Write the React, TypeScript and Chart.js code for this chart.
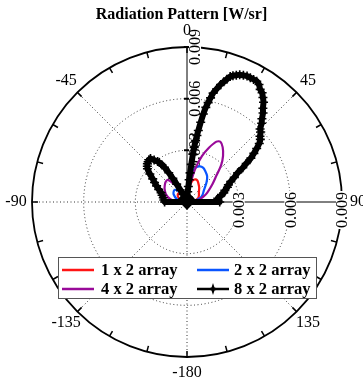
import { useEffect, useRef } from "react";
import { Chart, registerables } from "chart.js";

Chart.register(...registerables);

// ---- data (angle in degrees clockwise from top, radiation in W/sr) ----
const seriesNames = ["1 x 2 array", "2 x 2 array", "4 x 2 array", "8 x 2 array"];
const seriesColors = ["#ff1414", "#0a55ff", "#990a99", "#000000"];

const angles1x2 = [-90, -90, -75, -60, -50, -45, -40, -30, -20, -10, 0, 3, 6, 10, 15, 20, 25, 30, 40, 50, 60, 70, 80, 90, 90];
const values1x2 = [0, 0.0002, 0.0004, 0.0006, 0.0007, 0.0007, 0.0007, 0.0005, 0.0002, 0.0001, 0.0001, 0.0004, 0.0007, 0.001, 0.0013, 0.0014, 0.0014, 0.0013, 0.0011, 0.0009, 0.0008, 0.0007, 0.0005, 0.0003, 0];

const angles2x2 = [-90, -90, -75, -60, -50, -45, -40, -30, -20, -10, 0, 3, 6, 10, 15, 20, 25, 30, 38, 45, 55, 65, 73, 80, 90, 90];
const values2x2 = [0, 0.0003, 0.0006, 0.0009, 0.001, 0.001, 0.0009, 0.0006, 0.0002, 0.0001, 0.0001, 0.0007, 0.0014, 0.0018, 0.0021, 0.0022, 0.0022, 0.0021, 0.0019, 0.0016, 0.0012, 0.001, 0.0008, 0.0005, 0.0002, 0];

const angles4x2 = [-90, -90, -80, -70, -60, -54, -47, -41, -35, -30, -25, -15, 0, 8, 11, 14, 18, 22, 26, 29, 33, 38, 43, 48, 55, 65, 72, 80, 90, 90];
const values4x2 = [0, 0.0006, 0.001, 0.0013, 0.0015, 0.0016, 0.0017, 0.0017, 0.0012, 0.0007, 0.0003, 0.0001, 0.0001, 0.0006, 0.0012, 0.002, 0.0028, 0.0034, 0.0039, 0.004, 0.0038, 0.0034, 0.0029, 0.0023, 0.0018, 0.0013, 0.001, 0.0007, 0.0004, 0];

const angles8x2 = [-90, -90, -85, -80, -75, -70, -66, -62, -59, -56, -53, -50, -48, -46, -44, -42, -40, -38, -36, -35, -34, -33, -32, -31, -30, -29, -27.5, -26, -23, -20, -15, -10, -5, 0, 2, 3, 4, 5, 5.5, 6, 6.5, 7, 7.5, 8, 8.5, 9, 9.75, 10.5, 11.25, 12, 12.75, 13.5, 14.75, 16, 17, 18, 19, 20, 21.25, 22.5, 24, 25.5, 27, 28.5, 30, 31.5, 33, 34.5, 36, 37.5, 39, 40.5, 42, 43.5, 45, 46.5, 48, 49.5, 51, 52.5, 54, 55.5, 57, 58.5, 60, 62.5, 65, 67.5, 70, 73, 76, 79.5, 83, 86.5, 90, 90];
const values8x2 = [0, 0.0013, 0.00135, 0.0014, 0.0015, 0.0016, 0.0018, 0.002, 0.0022, 0.0024, 0.0027, 0.003, 0.0031, 0.0032, 0.00325, 0.0033, 0.0033, 0.0031, 0.0029, 0.0028, 0.0026, 0.0024, 0.002, 0.0016, 0.0012, 0.0008, 0.0005, 0.0003, 0.0002, 0.0001, 0.0001, 0.0001, 0.0001, 0.0001, 0.0002, 0.0003, 0.0006, 0.0009, 0.0013, 0.0017, 0.0022, 0.0028, 0.0032, 0.0036, 0.0039, 0.0042, 0.0047, 0.0052, 0.0056, 0.0059, 0.0062, 0.0065, 0.0068, 0.0071, 0.0073, 0.0075, 0.0077, 0.0078, 0.0079, 0.008, 0.00805, 0.0081, 0.0081, 0.0081, 0.0081, 0.008, 0.0078, 0.0077, 0.0075, 0.0073, 0.007, 0.0068, 0.0065, 0.0063, 0.006, 0.0059, 0.0057, 0.0056, 0.0054, 0.0051, 0.0048, 0.0045, 0.0041, 0.0038, 0.0034, 0.0031, 0.0028, 0.0026, 0.0025, 0.0023, 0.0022, 0.002, 0.0018, 0.0018, 0.0019, 0];

const radialTicks = [0.003, 0.006, 0.009];
const radialMax = 0.009;
const angleTicks = [0, 45, 90, 135, 180, 225, 270, 315];
const angleTickLabels = ["0", "45", "90", "135", "-180", "-135", "-90", "-45"];
const titleText = "Radiation Pattern [W/sr]";

const DEG = Math.PI / 180;
const toXY = (angles: number[], values: number[]) =>
  angles.map((a, i) => ({ x: values[i] * Math.sin(a * DEG), y: values[i] * Math.cos(a * DEG), r: values[i] }));

const SERIF = '"Liberation Serif", "Times New Roman", serif';

const polarFrame = {
  id: "polarFrame",
  beforeDatasetsDraw(chart: any) {
    const { ctx } = chart;
    const xs = chart.scales.x;
    const ys = chart.scales.y;
    const cx = xs.getPixelForValue(0);
    const cy = ys.getPixelForValue(0);
    const rp = (v: number) => xs.getPixelForValue(v) - cx;
    const R = rp(radialMax);
    const pt = (a: number, r: number) => [cx + r * Math.sin(a * DEG), cy - r * Math.cos(a * DEG)];
    ctx.save();
    // dotted rings and spokes
    ctx.strokeStyle = "#333";
    ctx.lineWidth = 1;
    ctx.setLineDash([1, 2.5]);
    radialTicks.forEach((t) => {
      if (t < radialMax) {
        ctx.beginPath();
        ctx.arc(cx, cy, rp(t), 0, 2 * Math.PI);
        ctx.stroke();
      }
    });
    angleTicks.forEach((a) => {
      if (a === 0 || a === 90) return;
      const [x2, y2] = pt(a, R);
      ctx.beginPath();
      ctx.moveTo(cx, cy);
      ctx.lineTo(x2, y2);
      ctx.stroke();
    });
    ctx.setLineDash([]);
    // solid radial axes
    ctx.strokeStyle = "#000";
    ctx.lineWidth = 1;
    ctx.beginPath();
    ctx.moveTo(cx, cy);
    ctx.lineTo(cx, cy - R);
    ctx.moveTo(cx, cy);
    ctx.lineTo(cx + R, cy);
    ctx.stroke();
    ctx.lineWidth = 2;
    radialTicks.forEach((t) => {
      const r = rp(t);
      ctx.beginPath();
      ctx.moveTo(cx - 3, cy - r);
      ctx.lineTo(cx + 3, cy - r);
      ctx.moveTo(cx + r, cy - 3);
      ctx.lineTo(cx + r, cy + 3);
      ctx.stroke();
    });
    // outer circle
    ctx.lineWidth = 1.8;
    ctx.beginPath();
    ctx.arc(cx, cy, R, 0, 2 * Math.PI);
    ctx.stroke();
    // rim ticks
    ctx.lineWidth = 1.5;
    for (let a = 0; a < 360; a += 15) {
      const [x1, y1] = pt(a, R);
      const [x2, y2] = pt(a, R - 6);
      ctx.beginPath();
      ctx.moveTo(x1, y1);
      ctx.lineTo(x2, y2);
      ctx.stroke();
    }
    // radial tick labels (rotated)
    ctx.font = `16px ${SERIF}`;
    ctx.textAlign = "center";
    ctx.textBaseline = "middle";
    radialTicks.forEach((t) => {
      const label = t.toFixed(3);
      const w = ctx.measureText(label).width;
      const r = rp(t);
      const spots = [
        [cx + 8, cy - r],
        [cx + r, cy + 8],
      ];
      spots.forEach(([x0, y0]) => {
        ctx.save();
        ctx.translate(x0, y0);
        ctx.rotate(-Math.PI / 2);
        ctx.fillStyle = "#fff";
        ctx.fillRect(-w / 2 - 1, -6, w + 2, 12);
        ctx.fillStyle = "#000";
        ctx.fillText(label, 0, 1);
        ctx.restore();
      });
    });
    // angle labels
    ctx.fillStyle = "#000";
    angleTicks.forEach((a, i) => {
      const [lx, ly] = pt(a, R + 16);
      ctx.fillText(angleTickLabels[i], lx, ly);
    });
    // title
    ctx.font = `bold 16px ${SERIF}`;
    ctx.fillText(titleText, chart.width / 2, 15);
    ctx.restore();
  },
  afterDatasetsDraw(chart: any) {
    const { ctx } = chart;
    ctx.save();
    ctx.fillStyle = "#fff";
    ctx.fillRect(58, 257, 258, 41);
    ctx.strokeStyle = "#555";
    ctx.lineWidth = 1;
    ctx.strokeRect(58.5, 257.5, 258, 41);
    const spots = [
      [62, 270, 101],
      [197, 270, 234],
      [62, 289, 101],
      [197, 289, 234],
    ];
    ctx.font = `bold 16.5px ${SERIF}`;
    ctx.textAlign = "left";
    ctx.textBaseline = "middle";
    seriesNames.forEach((name, i) => {
      const [lx, ly, tx] = spots[i];
      ctx.strokeStyle = seriesColors[i];
      ctx.lineWidth = 2.5;
      ctx.beginPath();
      ctx.moveTo(lx, ly);
      ctx.lineTo(lx + 32, ly);
      ctx.stroke();
      if (i === 3) {
        const mx = lx + 16;
        ctx.fillStyle = "#000";
        ctx.beginPath();
        ctx.moveTo(mx - 6, ly);
        ctx.lineTo(mx - 1.5, ly - 1.5);
        ctx.lineTo(mx, ly - 6);
        ctx.lineTo(mx + 1.5, ly - 1.5);
        ctx.lineTo(mx + 6, ly);
        ctx.lineTo(mx + 1.5, ly + 1.5);
        ctx.lineTo(mx, ly + 6);
        ctx.lineTo(mx - 1.5, ly + 1.5);
        ctx.closePath();
        ctx.fill();
      }
      ctx.fillStyle = "#000";
      ctx.fillText(name, tx, ly + 1);
    });
    ctx.restore();
  },
};

export default function App() {
  const ref = useRef<HTMLCanvasElement>(null);
  useEffect(() => {
    document.body.style.margin = "0";
    const canvas = ref.current!;
    const seriesData = [
      toXY(angles1x2, values1x2),
      toXY(angles2x2, values2x2),
      toXY(angles4x2, values4x2),
      toXY(angles8x2, values8x2),
    ];
    const nearCenter = (c: any) => c.raw && c.raw.r < 0.00025;
    const chart = new Chart(canvas, {
      type: "scatter",
      data: {
        datasets: seriesData.map((d, i) => ({
          label: seriesNames[i],
          data: d,
          showLine: true,
          borderColor: seriesColors[i],
          backgroundColor: seriesColors[i],
          borderWidth: i === 3 ? 6 : 2.2,
          tension: i === 3 ? 0.15 : 0.3,
          pointRadius: i === 3 ? (c: any) => (nearCenter(c) ? 6.5 : 4.5) : 0,
          pointStyle: (c: any) => (nearCenter(c) ? "rectRot" : "cross"),
          pointBorderWidth: 1.6,
          pointBorderColor: seriesColors[i],
          pointBackgroundColor: seriesColors[i],
          clip: false,
          order: 4 - i,
        })),
      },
      options: {
        responsive: false,
        animation: false,
        events: [],
        layout: { padding: { left: 32, right: 21, top: 47, bottom: 28 } },
        scales: {
          x: { type: "linear", min: -radialMax, max: radialMax, display: false },
          y: { type: "linear", min: -radialMax, max: radialMax, display: false },
        },
        plugins: {
          legend: { display: false },
          title: { display: false },
          tooltip: { enabled: false },
        },
      },
      plugins: [polarFrame],
    });
    return () => chart.destroy();
  }, []);
  return (
    <div style={{ width: 363, height: 385 }}>
      <canvas ref={ref} width={363} height={385} style={{ display: "block" }} />
    </div>
  );
}
